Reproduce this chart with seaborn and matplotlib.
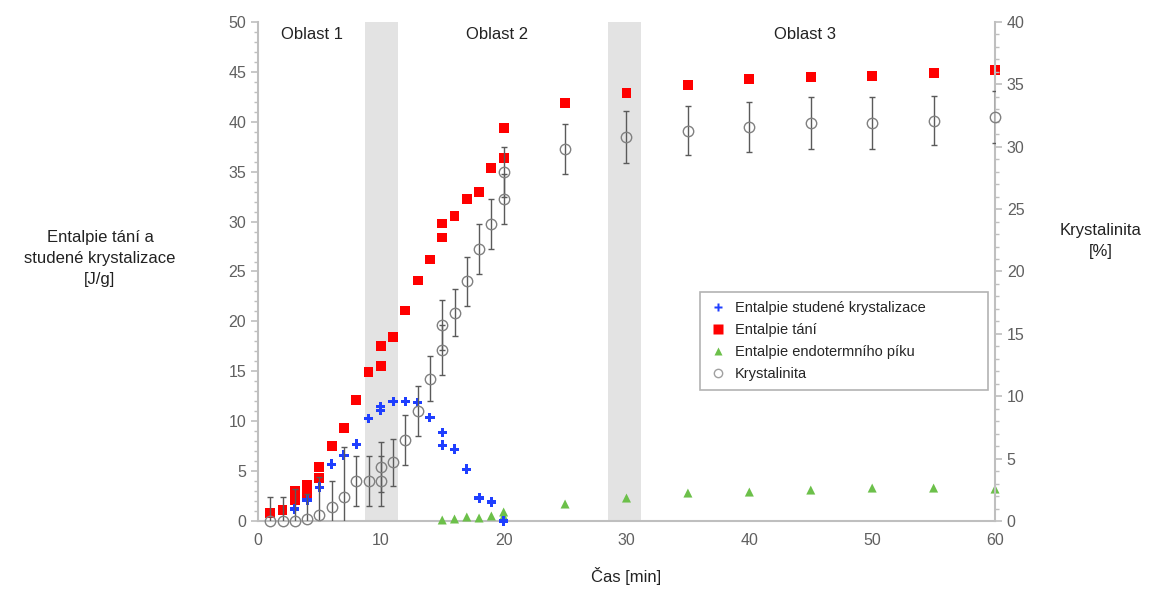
import numpy as np
import pandas as pd
import matplotlib
matplotlib.use("Agg")
import matplotlib.pyplot as plt
import seaborn as sns
from matplotlib.ticker import MultipleLocator
from matplotlib.lines import Line2D

# ---- data ----
time_cold = [3, 4, 5, 6, 7, 8, 9, 10, 10, 11, 12, 13, 14, 15, 15, 16, 17, 18, 19, 20]
h_cold = [1.2, 2.1, 3.4, 5.7, 6.6, 7.7, 10.3, 11.5, 11.1, 12.0, 12.0, 11.9, 10.4, 8.9, 7.6, 7.2, 5.2, 2.3, 1.9, 0.0]

time_melt = [1, 2, 3, 3, 4, 4, 5, 5, 6, 7, 8, 9, 10, 10, 11, 12, 13, 14, 15, 15, 16, 17, 18, 19, 20, 20,
             25, 30, 35, 40, 45, 50, 55, 60]
h_melt = [0.8, 1.1, 3.0, 2.1, 3.6, 2.6, 5.4, 4.3, 7.5, 9.3, 12.1, 14.9, 17.5, 15.5, 18.4, 21.1, 24.1, 26.2,
          29.8, 28.4, 30.6, 32.3, 33.0, 35.4, 36.4, 39.4, 41.9, 42.9, 43.7, 44.3, 44.5, 44.6, 44.9, 45.2]

time_endo = [15, 16, 17, 18, 19, 20, 20, 25, 30, 35, 40, 45, 50, 55, 60]
h_endo = [0.1, 0.2, 0.4, 0.3, 0.5, 0.9, 0.5, 1.7, 2.3, 2.8, 2.9, 3.1, 3.3, 3.3, 3.2]

time_cryst = [1, 2, 3, 4, 5, 6, 7, 8, 9, 10, 10, 11, 12, 13, 14, 15, 15, 16, 17, 18, 19, 20, 20,
              25, 30, 35, 40, 45, 50, 55, 60]
cryst = [0, 0, 0, 0.2, 0.5, 1.1, 1.9, 3.2, 3.2, 3.2, 4.3, 4.7, 6.5, 8.8, 11.4, 15.7, 13.7, 16.7, 19.2,
         21.8, 23.8, 25.8, 28.0, 29.8, 30.8, 31.3, 31.6, 31.9, 31.9, 32.1, 32.4]
cryst_err = [1.9, 1.9, 2.6, 2.0, 3.0, 2.1, 4.0, 2.0, 2.0, 2.0, 2.0, 1.9, 2.0, 2.0, 1.8, 2.0, 2.0, 1.9,
             2.0, 2.0, 2.0, 2.0, 2.0, 2.0, 2.1, 2.0, 2.0, 2.1, 2.1, 2.0, 2.1]

regions = ["Oblast 1", "Oblast 2", "Oblast 3"]
region_x = [4.4, 19.5, 44.5]
shade_spans = [(8.7, 11.4), (28.5, 31.2)]

labels = ["Entalpie studené krystalizace", "Entalpie tání", "Entalpie endotermního píku", "Krystalinita"]

# ---- style ----
sns.set_style("white")
plt.rcParams['font.family'] = ['Liberation Sans', 'DejaVu Sans']
tick_col = "#606060"
spine_col = "#bfbfbf"
c_blue, c_red, c_green, c_grey = "#1f3fff", "#ff0000", "#6cc04a", "#808080"

fig = plt.figure(figsize=(11.49, 5.94), dpi=100)
ax = fig.add_axes([0.2245, 0.1229, 0.6415, 0.8401])
ax2 = ax.twinx()

for a, b in shade_spans:
    ax.axvspan(a, b, color="#e3e3e3", zorder=0, lw=0)

df_cold = pd.DataFrame({"t": time_cold, "h": h_cold})
df_melt = pd.DataFrame({"t": time_melt, "h": h_melt})
df_endo = pd.DataFrame({"t": time_endo, "h": h_endo})

sns.scatterplot(data=df_cold, x="t", y="h", ax=ax, marker="P", s=45, color=c_blue,
                edgecolor="none", zorder=4, clip_on=False, legend=False)
sns.scatterplot(data=df_melt, x="t", y="h", ax=ax, marker="s", s=50, color=c_red,
                edgecolor="none", zorder=3, clip_on=False, legend=False)
sns.scatterplot(data=df_endo, x="t", y="h", ax=ax, marker="^", s=42, color=c_green,
                edgecolor="none", zorder=3, clip_on=False, legend=False)

eb = ax2.errorbar(time_cryst, cryst, yerr=cryst_err, fmt="o", ms=7.5, mfc="none", mec=c_grey,
                  mew=1.0, ecolor="#5a5a5a", elinewidth=1.0, capsize=2.5, capthick=1.0, zorder=3)
eb.lines[0].set_clip_on(False)

ax.set_xlim(0, 60)
ax.set_ylim(0, 50)
ax2.set_ylim(0, 40)
ax.xaxis.set_major_locator(MultipleLocator(10))
ax.xaxis.set_minor_locator(MultipleLocator(2))
ax.yaxis.set_major_locator(MultipleLocator(5))
ax.yaxis.set_minor_locator(MultipleLocator(1))
ax2.yaxis.set_major_locator(MultipleLocator(5))
ax2.yaxis.set_minor_locator(MultipleLocator(1))

for a in (ax, ax2):
    for s in a.spines.values():
        s.set_color(spine_col)
        s.set_linewidth(1.5)
    a.spines["top"].set_visible(False)
    a.tick_params(which="both", colors=spine_col, labelcolor=tick_col, labelsize=11.5)
    a.tick_params(which="major", length=5, width=1.2)
    a.tick_params(which="minor", length=3, width=1)
ax.spines["right"].set_visible(False)
ax2.spines["left"].set_visible(False)
ax2.spines["bottom"].set_visible(False)
ax.tick_params(axis="y", which="both", direction="out", left=True)
ax2.tick_params(axis="y", which="both", direction="out", right=True)

ax.set_xlabel("Čas [min]", fontsize=12, color="#222222", labelpad=14)
ax.set_ylabel("")
ax2.set_ylabel("")
fig.text(0.087, 0.565, "Entalpie tání a\nstudené krystalizace\n[J/g]", ha="center", va="center",
         fontsize=12, color="#222222", linespacing=1.5)
fig.text(0.958, 0.595, "Krystalinita\n[%]", ha="center", va="center",
         fontsize=12, color="#222222", linespacing=1.5)

for txt, xx in zip(regions, region_x):
    ax.text(xx, 48.7, txt, ha="center", va="center", fontsize=12, color="#222222")

handles = [
    Line2D([], [], ls="none", marker="P", ms=6, mfc=c_blue, mec="none"),
    Line2D([], [], ls="none", marker="s", ms=7, mfc=c_red, mec="none"),
    Line2D([], [], ls="none", marker="^", ms=6, mfc=c_green, mec="none"),
    Line2D([], [], ls="none", marker="o", ms=6, mfc="none", mec="#a0a0a0", mew=1.0),
]
leg = ax2.legend(handles, labels, loc="lower left", bbox_to_anchor=(0.60, 0.263, 0.39, 0.21),
                 mode="expand", frameon=True, fancybox=False, edgecolor="#a0a0a0", fontsize=10.5,
                 handletextpad=0.6, borderpad=0.6, labelspacing=0.55, handlelength=1.2,
                 borderaxespad=0)
leg.get_frame().set_linewidth(1.2)
leg.set_zorder(10)

fig.savefig("out.png", dpi=100)
